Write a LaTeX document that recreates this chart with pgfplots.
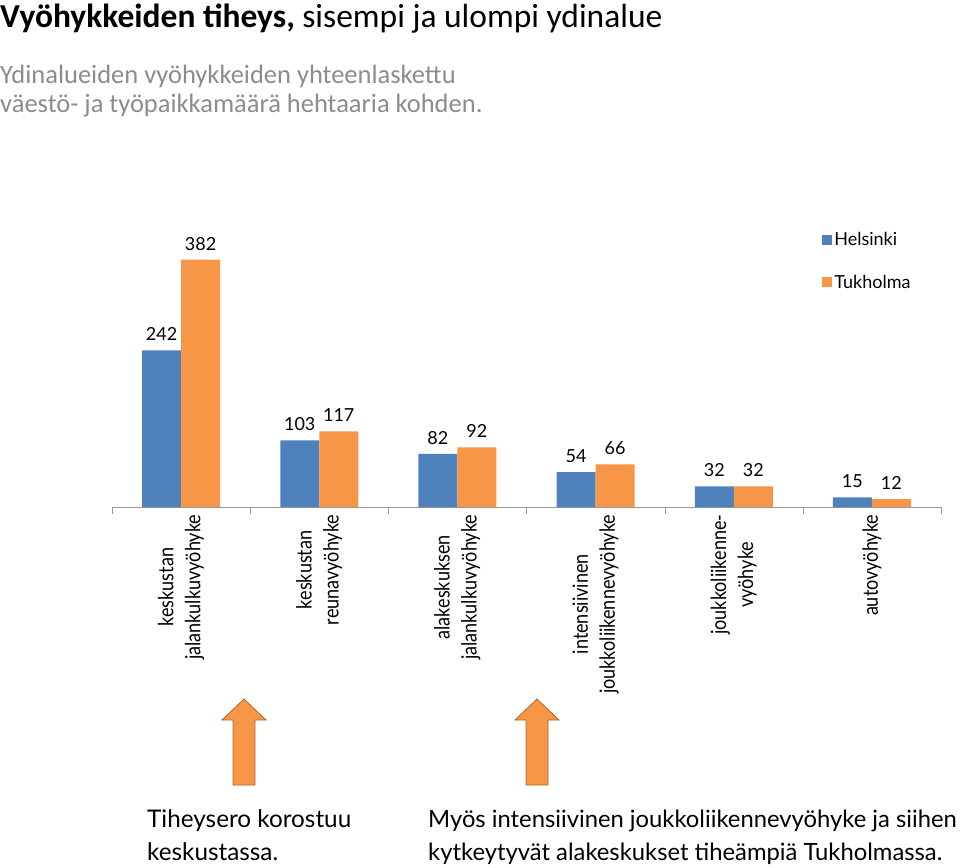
\documentclass[border=0pt]{standalone}
\usepackage{pgfplots}
\pgfplotsset{compat=1.18}
\usepackage{fontspec}
\setmainfont{Lato}
\newfontfamily\titlefont{Carlito}
\newfontfamily\narrowfont{Lato}[FakeStretch=0.86]
\definecolor{hel}{HTML}{4F81BD}
\definecolor{tuk}{HTML}{F79646}
\definecolor{arrowline}{HTML}{B0682C}
\begin{document}
\begin{tikzpicture}
\useasboundingbox (0pt,0pt) rectangle (960pt,-867pt);
% titles
\node[anchor=base west, inner sep=0pt] at (0pt,-28pt) {\titlefont\fontsize{33.5}{40}\selectfont\textbf{Vyöhykkeiden tiheys,} sisempi ja ulompi ydinalue};
\node[anchor=base west, inner sep=0pt, text=black!45] at (0pt,-83pt) {\titlefont\fontsize{26.5}{30}\selectfont Ydinalueiden vyöhykkeiden yhteenlaskettu};
\node[anchor=base west, inner sep=0pt, text=black!45] at (0pt,-112pt) {\titlefont\fontsize{26.5}{30}\selectfont väestö- ja työpaikkamäärä hehtaaria kohden.};
\begin{axis}[
  at={(112pt,-507pt)}, anchor=south west,
  scale only axis, width=829pt, height=279pt,
  xmin=-0.5, xmax=5.5, ymin=0, ymax=431,
  axis y line=none, axis x line*=bottom,
  x axis line style={draw=black!40, -},
  tick align=outside,
  xtick={0,1,2,3,4,5},
  major tick length=0pt,
  xticklabels={{keskustan\\jalankulkuvyöhyke},{keskustan\\reunavyöhyke},{alakeskuksen\\jalankulkuvyöhyke},{intensiivinen\\joukkoliikennevyöhyke},{joukkoliikenne-\\vyöhyke},{autovyöhyke}},
  xticklabel style={rotate=90, anchor=east, align=center, font=\narrowfont\fontsize{21}{27}\selectfont},
  xticklabel shift=4pt,
  extra x ticks={-0.5,0.5,1.5,2.5,3.5,4.5,5.5},
  extra x tick labels={},
  extra x tick style={major tick length=7pt, tick style={draw=black!40}},
  ybar, ybar=0pt, bar width=39pt,
  /pgf/number format/assume math mode=true,
  nodes near coords,
  nodes near coords style={font=\fontsize{18}{20}\selectfont, text=black, yshift=6pt},
  clip=false,
  legend style={at={(0.853,1)}, anchor=north west, draw=none, fill=none, font=\fontsize{18}{20}\selectfont, row sep=24pt},
  legend cell align=left,
]
\addplot[fill=hel, draw=none, legend image code/.code={\fill[hel] (0pt,-5pt) rectangle (10pt,5pt);}] coordinates {(0,242) (1,103) (2,82) (3,54) (4,32) (5,15)};
\addplot[fill=tuk, draw=none, legend image code/.code={\fill[tuk] (0pt,-5pt) rectangle (10pt,5pt);}] coordinates {(0,382) (1,117) (2,92) (3,66) (4,32) (5,12)};
\legend{Helsinki, Tukholma}
\end{axis}
% arrows
\filldraw[fill=tuk, draw=arrowline, line width=0.8pt] (244pt,-699pt) -- (266pt,-720pt) -- (255pt,-720pt) -- (255pt,-785pt) -- (233pt,-785pt) -- (233pt,-720pt) -- (222pt,-720pt) -- cycle;
\filldraw[fill=tuk, draw=arrowline, line width=0.8pt] (537pt,-699pt) -- (559pt,-720pt) -- (548pt,-720pt) -- (548pt,-785pt) -- (526pt,-785pt) -- (526pt,-720pt) -- (515pt,-720pt) -- cycle;
% bottom text
\node[anchor=base west, inner sep=0pt] at (147pt,-827pt) {\fontsize{24.3}{28}\selectfont Tiheysero korostuu};
\node[anchor=base west, inner sep=0pt] at (147pt,-860pt) {\fontsize{24.3}{28}\selectfont keskustassa.};
\node[anchor=base west, inner sep=0pt] at (428pt,-827pt) {\fontsize{23.8}{28}\selectfont Myös intensiivinen joukkoliikennevyöhyke ja siihen};
\node[anchor=base west, inner sep=0pt] at (428pt,-860pt) {\fontsize{23.8}{28}\selectfont kytkeytyvät alakeskukset tiheämpiä Tukholmassa.};
\end{tikzpicture}
\end{document}
